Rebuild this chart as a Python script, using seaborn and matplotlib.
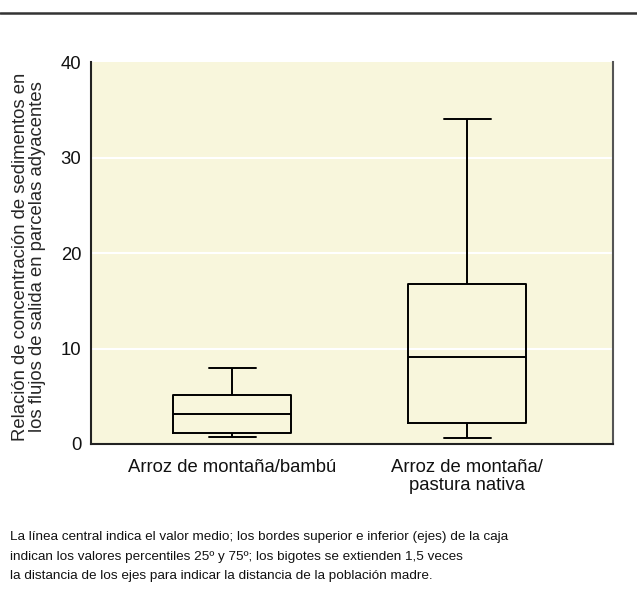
import matplotlib
matplotlib.use("Agg")
import matplotlib.pyplot as plt
import seaborn as sns
import pandas as pd
from matplotlib.lines import Line2D
from matplotlib import font_manager

categories = ["Arroz de montaña/bambú", "Arroz de montaña/\npastura nativa"]
# five-number summaries: lower whisker, Q1, median, Q3, upper whisker
group1 = [0.7, 1.2, 3.1, 5.1, 8.0]
group2 = [0.6, 2.2, 9.1, 16.8, 34.1]
yticks = [0, 10, 20, 30, 40]
ylabel = "Relación de concentración de sedimentos en\nlos flujos de salida en parcelas adyacentes"
caption = ("La línea central indica el valor medio; los bordes superior e inferior (ejes) de la caja\n"
           "indican los valores percentiles 25º y 75º; los bigotes se extienden 1,5 veces\n"
           "la distancia de los ejes para indicar la distancia de la población madre.")

df = pd.DataFrame({
    "cat": [categories[0]] * len(group1) + [categories[1]] * len(group2),
    "val": group1 + group2,
})

sns.set_style("white")
plt.rcParams["font.family"] = ["Liberation Sans", "DejaVu Sans"]

names = {f.name for f in font_manager.fontManager.ttflist}
narrow = "Liberation Sans Narrow" in names

fig = plt.figure(figsize=(6.37, 6.14), dpi=100)
ax = fig.add_axes([91 / 637, 1 - 444 / 614, (613 - 91) / 637, (444 - 62.4) / 614])
bg = "#F8F6DC"
ax.set_facecolor(bg)

sns.boxplot(data=df, x="cat", y="val", order=categories, ax=ax, fill=False,
            color="black", linecolor="black", width=0.5, linewidth=1.4,
            whis=1.5, showfliers=False, capwidths=0.2)

ax.set_xlim(-0.6, 1.62)
ax.set_ylim(0, 40)
ax.set_yticks(yticks)
ax.set_yticklabels([str(t) for t in yticks])
for y in yticks[1:-1]:
    ax.axhline(y, color="white", lw=1.5, zorder=0)
ax.set_xlabel("")
ax.set_ylabel(ylabel, fontsize=13.3, linespacing=1.0)
ax.yaxis.set_label_coords(-0.086, 0.49)
ax.tick_params(axis="both", length=0, labelsize=13.3, colors="#111111")
ax.tick_params(axis="y", pad=7)
ax.tick_params(axis="x", pad=11)
for lab in ax.get_xticklabels():
    lab.set_linespacing(1.05)
ax.spines["top"].set_visible(False)
ax.spines["left"].set_color("#222222")
ax.spines["bottom"].set_color("#222222")
ax.spines["right"].set_color("#555555")
for s in ["left", "bottom", "right"]:
    ax.spines[s].set_linewidth(1.5)

fig.add_artist(Line2D([0, 1], [1 - 13 / 614, 1 - 13 / 614], color="#333333", lw=1.8,
                      transform=fig.transFigure))

if narrow:
    fig.text(10 / 637, 1 - 531 / 614, caption, fontsize=11.8, va="top", ha="left",
             family=["Liberation Sans Narrow", "DejaVu Sans"], linespacing=1.5,
             color="#111111")
else:
    fig.text(10 / 637, 1 - 531 / 614, caption, fontsize=9.7, va="top", ha="left",
             family=["Liberation Sans", "DejaVu Sans"], linespacing=1.85,
             color="#111111")

fig.savefig("out.png", dpi=100, facecolor="white")
